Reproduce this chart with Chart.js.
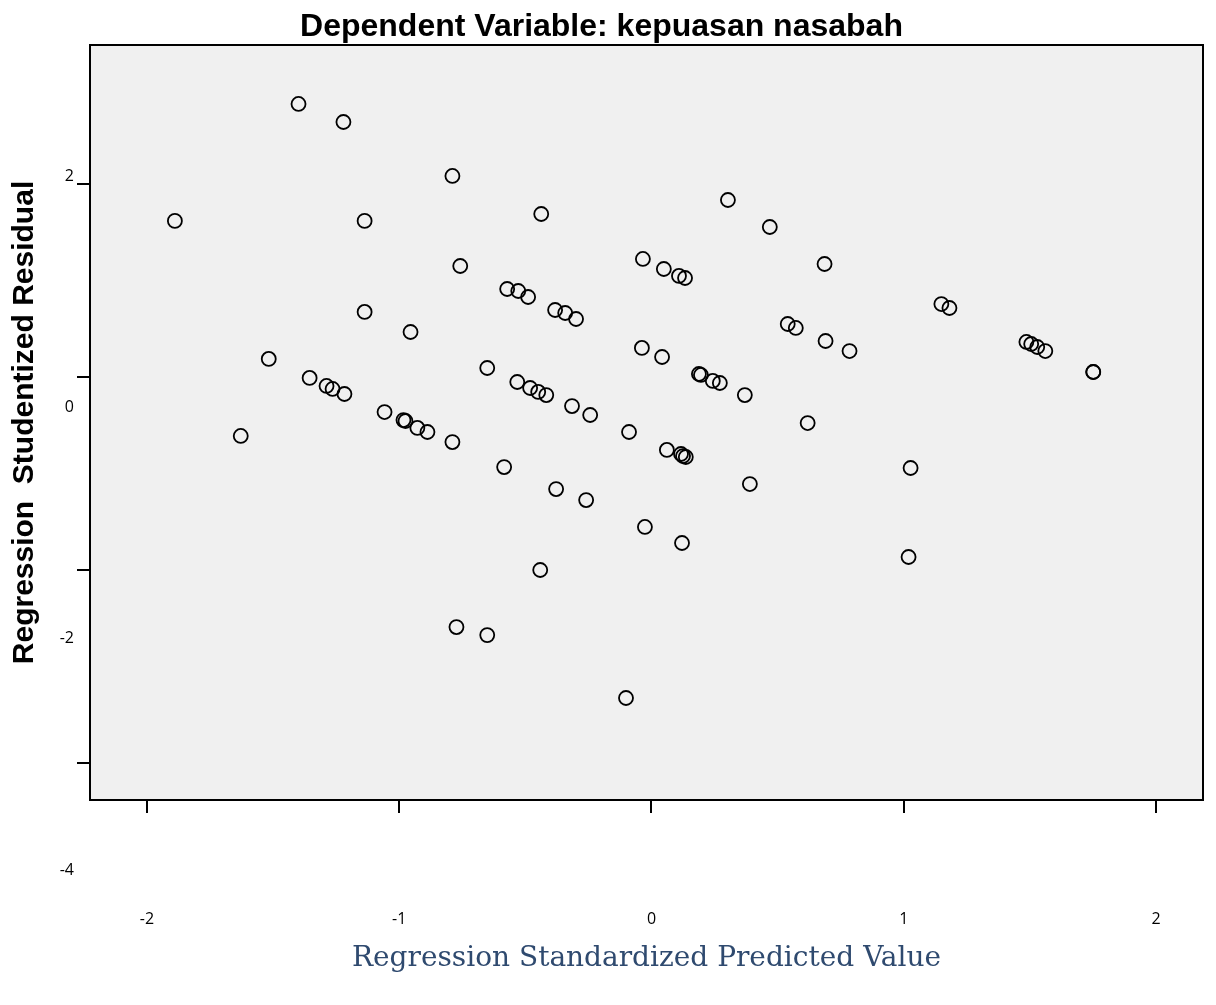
<!DOCTYPE html>
<html><head><meta charset="utf-8">
<script src="https://cdn.jsdelivr.net/npm/chart.js@4.4.1/dist/chart.umd.min.js"></script>
<style>html,body{margin:0;padding:0;background:#fff}</style>
</head><body>
<canvas id="c" width="1216" height="1005"></canvas>
<script>
const chartTitle = 'Dependent Variable: kepuasan nasabah';
const xTitle = 'Regression Standardized Predicted Value';
const yTitle = 'Regression  Studentized Residual';

const predictedValues = [-1.399, -1.221, -0.789, 0.303, -1.889, -1.137, -0.437, 0.469, -0.034, -0.758,
  0.049, 0.109, 0.133, 0.686, -0.572, -0.528, -0.489, 1.149, 1.181, -1.137,
  -0.382, -0.342, -0.299, -0.955, 0.540, 0.572, 0.690, 1.486, 1.505, 1.529,
  1.561, -0.038, 0.785, -1.517, 0.042, -0.651, 0.188, 0.196, 0.243, 0.271,
  1.751, 1.751, -1.355, -1.288, -1.264, -1.217, -0.532, -0.481, -0.449, -0.417,
  0.370, -1.058, -0.983, -0.975, -0.928, -0.888, -0.315, -0.243, -1.628, -0.789,
  -0.089, 0.619, 0.061, 0.117, 0.125, 0.136, -0.584, 1.027, -0.378, 0.390,
  -0.259, -0.026, 0.121, 1.019, -0.441, -0.773, -0.651, -0.101];

const residualValues = [2.829, 2.642, 2.083, 1.834, 1.617, 1.617, 1.689, 1.554, 1.223, 1.150,
  1.119, 1.047, 1.026, 1.171, 0.912, 0.891, 0.829, 0.756, 0.715, 0.674,
  0.694, 0.663, 0.601, 0.466, 0.549, 0.508, 0.373, 0.363, 0.342, 0.311,
  0.269, 0.301, 0.269, 0.187, 0.207, 0.093, 0.031, 0.021, -0.041, -0.062,
  0.052, 0.052, -0.010, -0.093, -0.124, -0.176, -0.052, -0.114, -0.155, -0.187,
  -0.187, -0.363, -0.446, -0.456, -0.528, -0.570, -0.301, -0.394, -0.611, -0.674,
  -0.570, -0.477, -0.756, -0.798, -0.819, -0.829, -0.933, -0.943, -1.161, -1.109,
  -1.275, -1.554, -1.720, -1.865, -2.000, -2.591, -2.674, -3.326];

const xTickValues = [-2, -1, 0, 1, 2];
const yTickValues = [2, 0, -2, -4];
const yLabelValues = [2, 0, -2, -4];

const points = predictedValues.map((x, i) => ({x: x, y: residualValues[i]}));

const framePlugin = {
  id: 'frame',
  beforeDraw(chart) {
    const {ctx, chartArea: a} = chart;
    ctx.save();
    ctx.fillStyle = '#f0f0f0';
    ctx.fillRect(a.left, a.top, a.right - a.left, a.bottom - a.top);
    ctx.restore();
  },
  beforeDatasetsDraw(chart) {
    const {ctx, chartArea: a} = chart;
    ctx.save();
    ctx.strokeStyle = '#000';
    ctx.lineWidth = 2;
    ctx.strokeRect(a.left, a.top, a.right - a.left, a.bottom - a.top);
    ctx.restore();
  }
};

const tickFont = {family: "'Open Sans', 'Liberation Sans', sans-serif", size: 16};

new Chart(document.getElementById('c'), {
  type: 'scatter',
  data: {
    datasets: [{
      data: points,
      pointRadius: 7,
      pointHoverRadius: 7,
      pointBorderWidth: 1.8,
      pointBorderColor: '#000',
      pointBackgroundColor: 'rgba(0,0,0,0)'
    }]
  },
  plugins: [framePlugin],
  options: {
    responsive: false,
    animation: false,
    devicePixelRatio: 1,
    layout: {padding: {top: 0, right: 13, bottom: 0, left: 0}},
    events: [],
    plugins: {
      legend: {display: false},
      tooltip: {enabled: false},
      title: {
        display: true,
        text: chartTitle,
        color: '#000',
        font: {family: "'Liberation Sans', Arial, sans-serif", size: 32, weight: 'bold', lineHeight: 1},
        padding: {top: 11, bottom: 2}
      }
    },
    scales: {
      x: {
        type: 'linear',
        position: 'bottom',
        min: -2.2255,
        max: 2.186,
        afterBuildTicks: s => { s.ticks = xTickValues.map(v => ({value: v})); },
        afterFit: s => { s.height = 205; s.paddingLeft = 0; s.paddingRight = 0; },
        grid: {drawOnChartArea: false, drawTicks: true, tickLength: 13, color: '#000', lineWidth: 2},
        border: {display: false},
        ticks: {autoSkip: false, maxRotation: 0, padding: 97, color: '#000', font: tickFont},
        title: {
          display: true,
          text: xTitle,
          color: '#2f4a6f',
          font: {family: "'DejaVu Serif', 'Liberation Serif', serif", size: 28},
          padding: {top: 0, bottom: 29}
        }
      },
      y: {
        type: 'linear',
        position: 'left',
        weight: 0,
        min: -4.383,
        max: 3.440,
        afterBuildTicks: s => { s.ticks = yTickValues.map(v => ({value: v})); },
        afterFit: s => { s.width = 13; },
        grid: {drawOnChartArea: false, drawTicks: true, tickLength: 13, color: '#000', lineWidth: 2},
        border: {display: false},
        ticks: {display: false}
      },
      yl: {
        type: 'linear',
        position: 'left',
        weight: 1,
        min: -3.393,
        max: 3.132,
        afterBuildTicks: s => { s.ticks = yLabelValues.map(v => ({value: v})); },
        afterFit: s => { s.width = 77; },
        grid: {display: false, drawTicks: false, tickLength: 0},
        border: {display: false},
        ticks: {autoSkip: false, padding: 3, color: '#000', font: tickFont},
        title: {
          display: true,
          text: yTitle,
          color: '#000',
          font: {family: "'Liberation Sans', Arial, sans-serif", size: 30, weight: 'bold'},
          padding: {top: 7, bottom: 0}
        }
      }
    }
  }
});
</script>
</body></html>
